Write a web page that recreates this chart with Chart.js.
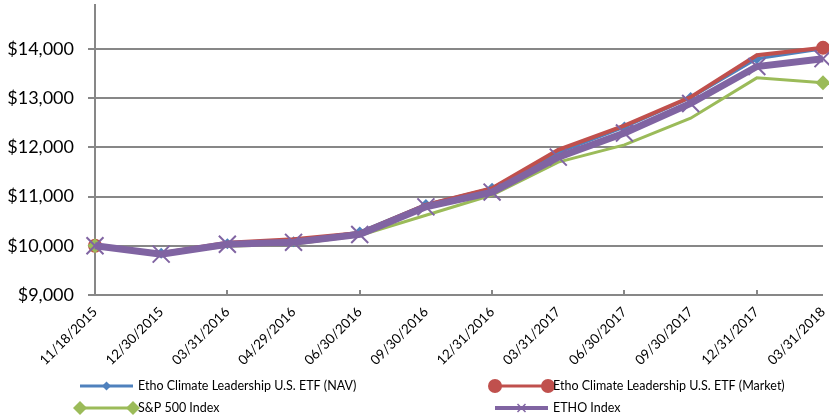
<!DOCTYPE html>
<html>
<head>
<meta charset="utf-8">
<script src="https://cdn.jsdelivr.net/npm/chart.js@4.4.1/dist/chart.umd.min.js"></script>
<style>
  html, body { margin: 0; padding: 0; background: #fff; }
  canvas { display: block; }
</style>
</head>
<body>
<canvas id="growth" width="829" height="419"></canvas>
<script>
// Growth of a $10,000 investment
const categories = ['11/18/2015', '12/30/2015', '03/31/2016', '04/29/2016', '06/30/2016', '09/30/2016',
                    '12/31/2016', '03/31/2017', '06/30/2017', '09/30/2017', '12/31/2017', '03/31/2018'];
const navValues    = [10000, 9850, 10040, 10080, 10280, 10840, 11170, 11890, 12410, 13010, 13800, 14000];
const marketValues = [10000, 9850, 10060, 10130, 10260, 10830, 11170, 11950, 12440, 13020, 13870, 14020];
const sp500Values  = [10000, 9840, 9990, 10030, 10210, 10620, 11030, 11700, 12050, 12590, 13410, 13310];
const ethoValues   = [10000, 9830, 10030, 10070, 10230, 10790, 11090, 11800, 12290, 12890, 13640, 13800];
const yTicks = [9000, 10000, 11000, 12000, 13000, 14000];

const BLUE = '#4F81BD', RED = '#C0504D', GREEN = '#9BBB59', PURPLE = '#8064A2', GRID = '#878787';
const FONT = 'Lato, "Open Sans", sans-serif';

const endsOnly = (r) => (ctx) => (ctx.dataIndex === 0 || ctx.dataIndex === categories.length - 1) ? r : 0;

// small inward tick marks on the category axis, every second category
const innerTicks = {
  id: 'innerTicks',
  afterDatasetsDraw(chart) {
    const { ctx, chartArea, scales } = chart;
    ctx.save();
    ctx.strokeStyle = GRID;
    ctx.lineWidth = 2;
    for (let i = 2; i < categories.length; i += 2) {
      const x = Math.round(scales.x.getPixelForValue(i));
      ctx.beginPath();
      ctx.moveTo(x, chartArea.bottom);
      ctx.lineTo(x, chartArea.bottom - 5);
      ctx.stroke();
    }
    ctx.restore();
  }
};

// two-column legend under the axis labels
const sampleLegend = {
  id: 'sampleLegend',
  afterDraw(chart) {
    const { ctx } = chart;
    const items = [
      { text: 'Etho Climate Leadership U.S. ETF (NAV)', color: BLUE, x: 80, y: 386, lw: 3, marker: 'diamondMid' },
      { text: 'Etho Climate Leadership U.S. ETF (Market)', color: RED, x: 495, y: 386, lw: 3, marker: 'circleEnds' },
      { text: 'S&P 500 Index', color: GREEN, x: 80, y: 408, lw: 3, marker: 'diamondEnds' },
      { text: 'ETHO Index', color: PURPLE, x: 495, y: 408, lw: 4, marker: 'crossMid' }
    ];
    const len = 53;
    ctx.save();
    items.forEach(it => {
      ctx.strokeStyle = it.color;
      ctx.fillStyle = it.color;
      ctx.lineWidth = it.lw;
      ctx.beginPath();
      ctx.moveTo(it.x, it.y);
      ctx.lineTo(it.x + len, it.y);
      ctx.stroke();
      const diamond = (cx, cy, r) => {
        ctx.beginPath();
        ctx.moveTo(cx, cy - r); ctx.lineTo(cx + r, cy); ctx.lineTo(cx, cy + r); ctx.lineTo(cx - r, cy);
        ctx.closePath(); ctx.fill();
      };
      if (it.marker === 'diamondMid') diamond(it.x + len / 2, it.y, 4.5);
      if (it.marker === 'diamondEnds') { diamond(it.x, it.y, 7); diamond(it.x + len, it.y, 7); }
      if (it.marker === 'circleEnds') {
        [it.x, it.x + len].forEach(cx => { ctx.beginPath(); ctx.arc(cx, it.y, 7, 0, Math.PI * 2); ctx.fill(); });
      }
      if (it.marker === 'crossMid') {
        const cx = it.x + len / 2, r = 4;
        ctx.lineWidth = 1.5;
        ctx.beginPath();
        ctx.moveTo(cx - r, it.y - r); ctx.lineTo(cx + r, it.y + r);
        ctx.moveTo(cx + r, it.y - r); ctx.lineTo(cx - r, it.y + r);
        ctx.stroke();
      }
      ctx.fillStyle = '#000';
      ctx.font = '12.5px ' + FONT;
      ctx.textBaseline = 'middle';
      ctx.textAlign = 'left';
      ctx.fillText(it.text, it.x + len + 5, it.y);
    });
    ctx.restore();
  }
};

new Chart(document.getElementById('growth'), {
  type: 'line',
  data: {
    labels: categories,
    datasets: [
      { label: 'Etho Climate Leadership U.S. ETF (NAV)', data: navValues, borderColor: BLUE, backgroundColor: BLUE,
        borderWidth: 3, pointStyle: 'rectRot', pointRadius: 5.5, pointBorderWidth: 0, order: 4, clip: false },
      { label: 'Etho Climate Leadership U.S. ETF (Market)', data: marketValues, borderColor: RED, backgroundColor: RED,
        borderWidth: 4, pointStyle: 'circle', pointRadius: endsOnly(7), pointBorderWidth: 0, order: 3, clip: false },
      { label: 'S&P 500 Index', data: sp500Values, borderColor: GREEN, backgroundColor: GREEN,
        borderWidth: 3, pointStyle: 'rectRot', pointRadius: endsOnly(7.5), pointBorderWidth: 0, order: 2, clip: false },
      { label: 'ETHO Index', data: ethoValues, borderColor: PURPLE, backgroundColor: PURPLE,
        borderWidth: 7, pointStyle: 'crossRot', pointRadius: 12, pointBorderWidth: 2, order: 1, clip: false }
    ]
  },
  options: {
    responsive: false,
    animation: false,
    events: [],
    layout: { autoPadding: false, padding: { top: 5, right: 6, left: 0, bottom: 0 } },
    elements: { line: { tension: 0 } },
    plugins: { legend: { display: false }, tooltip: { enabled: false } },
    scales: {
      x: {
        offset: false,
        grid: { display: false, drawTicks: false },
        border: { display: false },
        ticks: { autoSkip: false, minRotation: 45, maxRotation: 45, padding: 9, color: '#000',
                 font: { family: FONT, size: 13.5 } },
        afterFit(scale) { scale.height = 124; scale.paddingLeft = 0; scale.paddingRight = 0; }
      },
      y: {
        min: 9000,
        max: 14890,
        grid: { color: GRID, lineWidth: 2, tickLength: 7, drawTicks: true },
        border: { display: true, color: GRID, width: 2 },
        ticks: { padding: 14, color: '#000', font: { family: FONT, size: 18 },
                 callback: (v) => '$' + v.toLocaleString('en-US') },
        afterBuildTicks(scale) { scale.ticks = yTicks.map(v => ({ value: v })); },
        afterFit(scale) { scale.width = 95; scale.paddingTop = 0; scale.paddingBottom = 0; }
      }
    }
  },
  plugins: [innerTicks, sampleLegend]
});
</script>
</body>
</html>
